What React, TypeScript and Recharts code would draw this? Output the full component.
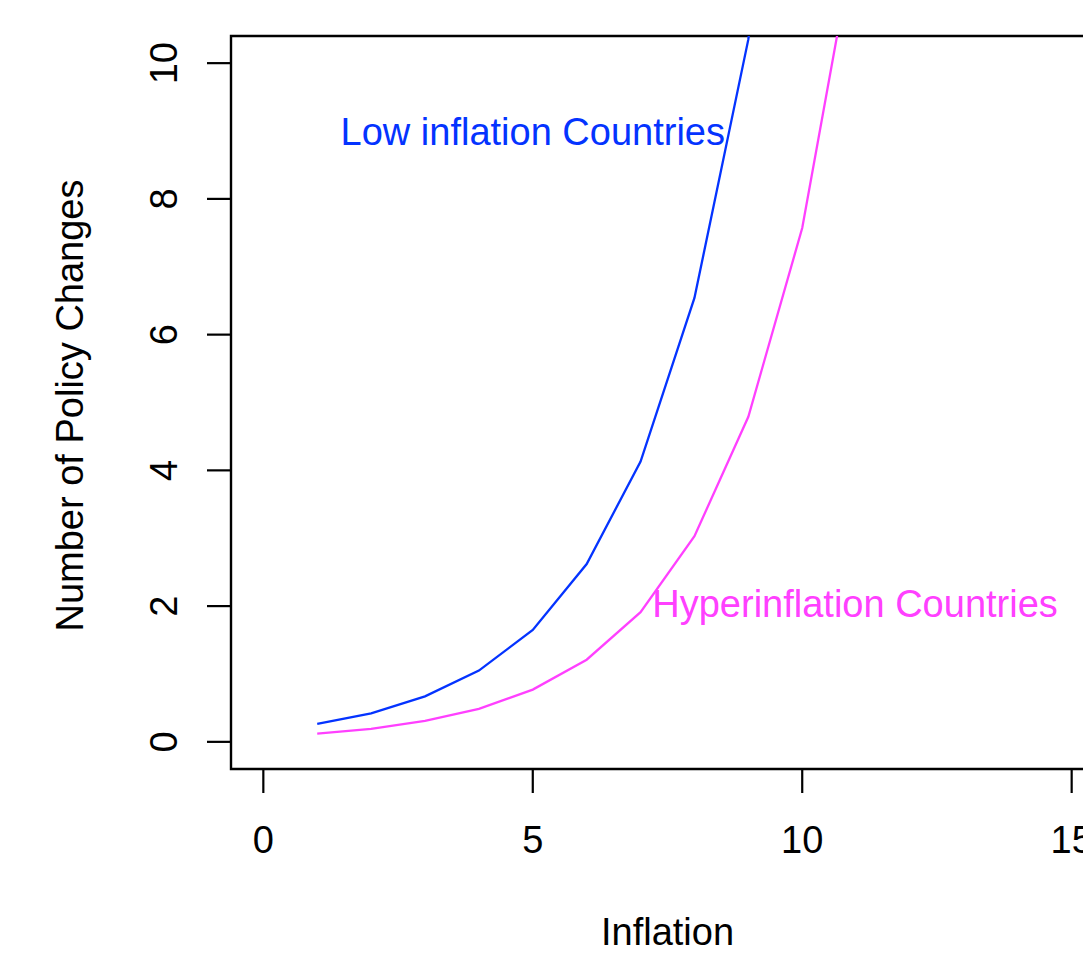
import { LineChart, Line, XAxis, YAxis, ReferenceArea, ReferenceDot } from "recharts";

const inflation = [1, 2, 3, 4, 5, 6, 7, 8, 9, 10, 11];
const lowInflation = [0.265, 0.42, 0.67, 1.05, 1.65, 2.62, 4.13, 6.54, 10.35, 16.4, null];
const hyperInflation = [0.122, 0.19, 0.31, 0.486, 0.77, 1.21, 1.91, 3.03, 4.79, 7.57, 11.95];
const xTicks = [0, 5, 10, 15];
const yTicks = [0, 2, 4, 6, 8, 10];

const BLUE = "#0433ff";
const MAGENTA = "#ff40ff";
const FONT = "'Liberation Sans', Arial, Helvetica, sans-serif";
const FS = 38;

const rows = inflation.map((x, i) => ({
  x,
  low: lowInflation[i],
  hyper: hyperInflation[i],
}));

const YTick = (props: { x?: number; y?: number; payload?: { value: number } }) => {
  const { x = 0, y = 0, payload } = props;
  return (
    <text
      x={x}
      y={y}
      transform={`rotate(-90, ${x}, ${y})`}
      textAnchor="middle"
      fontSize={FS}
      fontFamily={FONT}
      fill="#000"
    >
      {payload?.value}
    </text>
  );
};

const YTitle = (props: { viewBox?: { x: number; y: number; width: number; height: number } }) => {
  const vb = props.viewBox ?? { x: 0, y: 0, width: 0, height: 0 };
  const x = vb.x + 83;
  const y = vb.y + vb.height / 2 + 3;
  return (
    <text
      x={x}
      y={y}
      transform={`rotate(-90, ${x}, ${y})`}
      textAnchor="middle"
      fontSize={FS}
      fontFamily={FONT}
      fill="#000"
    >
      Number of Policy Changes
    </text>
  );
};

export default function App() {
  return (
    <div
      style={{
        position: "absolute",
        left: 0,
        top: 0,
        width: 1083,
        height: 955,
        overflow: "hidden",
        background: "#fff",
      }}
    >
      <LineChart
        width={1125}
        height={955}
        data={rows}
        margin={{ top: 36, right: 21, bottom: 0, left: 0 }}
      >
        <XAxis
          dataKey="x"
          type="number"
          domain={[-0.6, 15.6]}
          ticks={xTicks}
          allowDataOverflow
          height={186}
          axisLine={false}
          tickLine={{ stroke: "#000", strokeWidth: 2.2 }}
          tickSize={24}
          tickMargin={33}
          tick={{ fill: "#000", fontSize: FS, fontFamily: FONT }}
          label={{
            value: "Inflation",
            position: "insideBottom",
            offset: 10,
            fill: "#000",
            fontSize: FS,
            fontFamily: FONT,
          }}
        />
        <YAxis
          type="number"
          domain={[-0.4, 10.4]}
          ticks={yTicks}
          allowDataOverflow
          width={231}
          axisLine={false}
          tickLine={{ stroke: "#000", strokeWidth: 2.2 }}
          tickSize={24}
          tickMargin={30}
          tick={<YTick />}
          label={(p: any) => <YTitle {...p} />}
        />
        <ReferenceArea
          x1={-0.6}
          x2={15.6}
          y1={-0.4}
          y2={10.4}
          fill="none"
          stroke="#000"
          strokeWidth={2.4}
          fillOpacity={0}
        />
        <Line
          type="linear"
          dataKey="low"
          stroke={BLUE}
          strokeWidth={2.3}
          dot={false}
          activeDot={false}
          isAnimationActive={false}
        />
        <Line
          type="linear"
          dataKey="hyper"
          stroke={MAGENTA}
          strokeWidth={2.3}
          dot={false}
          activeDot={false}
          isAnimationActive={false}
        />
        <ReferenceDot
          x={5}
          y={9}
          r={0}
          fill="none"
          stroke="none"
          label={{
            value: "Low inflation Countries",
            position: "center",
            fill: BLUE,
            fontSize: FS,
            fontFamily: FONT,
          }}
        />
        <ReferenceDot
          x={10.98}
          y={2.04}
          r={0}
          fill="none"
          stroke="none"
          label={{
            value: "Hyperinflation Countries",
            position: "center",
            fill: MAGENTA,
            fontSize: FS,
            fontFamily: FONT,
          }}
        />
      </LineChart>
    </div>
  );
}
